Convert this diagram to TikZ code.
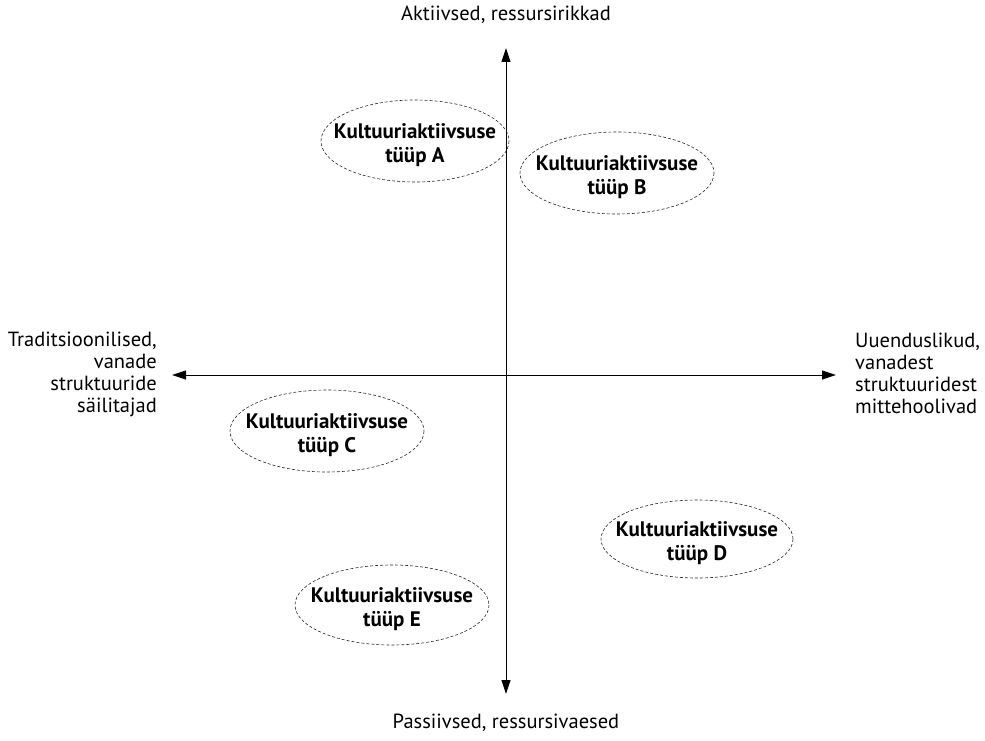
\documentclass[tikz,border=0pt]{standalone}
\usepackage{fontspec}
\setmainfont{PT Sans}
\usetikzlibrary{arrows.meta}
\begin{document}
\begin{tikzpicture}[x=1pt,y=-1pt,
  ax/.style={line width=1pt,-{Triangle[length=14pt,width=9pt]}},
  oval/.style={draw=black!85,line width=0.6pt,dash pattern=on 3pt off 2pt},
  typ/.style={inner sep=0pt,font=\bfseries\fontsize{21}{24}\selectfont,align=center},
  lbl/.style={font=\fontsize{20.5}{22}\selectfont,inner sep=0pt}]
\useasboundingbox (0,0) rectangle (985,741);
\coordinate (c) at (506,375);
\coordinate (top) at (506,48);
\coordinate (bot) at (506,694);
\coordinate (lft) at (172,375);
\coordinate (rgt) at (836,375);
\draw[ax] (c) -- (top);
\draw[ax] (c) -- (bot);
\draw[ax] (c) -- (lft);
\draw[ax] (c) -- (rgt);
\node[lbl,anchor=base] (tl) at (506,21) {Aktiivsed, ressursirikkad};
\node[lbl,anchor=base] (bl) at (506,728) {Passiivsed, ressursivaesed};
\node[lbl,align=right,anchor=east] (ll) at (157,374) {Traditsioonilised,\\vanade\\struktuuride\\säilitajad};
\node[lbl,align=left,anchor=west] (rl) at (855,373) {Uuenduslikud,\\vanadest\\struktuuridest\\mittehoolivad};
% ovals
\coordinate (oA) at (415,141);
\coordinate (oB) at (617,173);
\coordinate (oC) at (327,431);
\coordinate (oD) at (697,539);
\coordinate (oE) at (392,605);
\draw[oval] (oA) ellipse [x radius=94, y radius=41];
\draw[oval] (oB) ellipse [x radius=97, y radius=41];
\draw[oval] (oC) ellipse [x radius=97, y radius=41];
\draw[oval] (oD) ellipse [x radius=96, y radius=39];
\draw[oval] (oE) ellipse [x radius=97, y radius=40];
\node[typ] (A) at ([yshift=-4pt]oA) {Kultuuriaktiivsuse\\tüüp A};
\node[typ] (B) at ([yshift=-4pt]oB) {Kultuuriaktiivsuse\\tüüp B};
\node[typ] (C) at ([yshift=-4pt]oC) {Kultuuriaktiivsuse\\tüüp C};
\node[typ] (D) at ([yshift=-4pt]oD) {Kultuuriaktiivsuse\\tüüp D};
\node[typ] (E) at ([yshift=-4pt]oE) {Kultuuriaktiivsuse\\tüüp E};
\end{tikzpicture}
\end{document}
